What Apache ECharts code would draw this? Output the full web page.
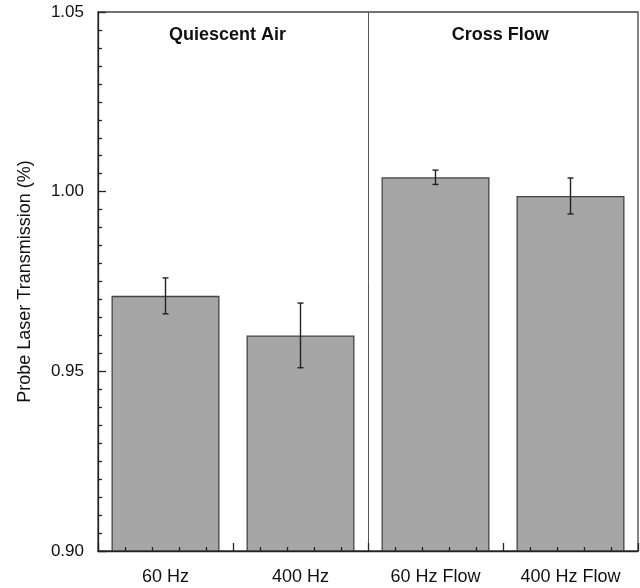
<!DOCTYPE html>
<html>
<head>
<meta charset="utf-8">
<script src="https://cdn.jsdelivr.net/npm/echarts@6/dist/echarts.min.js"></script>
<style>html,body{margin:0;padding:0;background:#fff}#c{width:640px;height:588px}</style>
</head>
<body>
<div id="c"></div>
<script>
var categories = ['60 Hz', '400 Hz', '60 Hz Flow', '400 Hz Flow'];
var values = [0.971, 0.960, 1.004, 0.9988];
var errors = [0.005, 0.009, 0.002, 0.005];
var sectionTitles = ['Quiescent Air', 'Cross Flow'];
var sectionCenters = [0.96, 2.98];
var sectionDivider = 2;
var yTicks = [0.90, 0.95, 1.00, 1.05];

var FONT = 'Liberation Sans';
var chart = echarts.init(document.getElementById('c'), null, {renderer: 'canvas'});
var tickStyle = {color: '#222', width: 1.3};
var option = {
  animation: false,
  backgroundColor: '#fff',
  grid: {left: 98, right: 2, top: 12, bottom: 37, show: true, borderColor: '#444', borderWidth: 1.3, backgroundColor: 'transparent'},
  xAxis: [{
    type: 'category',
    data: categories,
    axisLine: {show: true, lineStyle: {color: '#222', width: 1.3}},
    axisTick: {show: false},
    axisLabel: {color: '#111', fontFamily: FONT, fontSize: 18, margin: 17},
    splitLine: {show: false},
    z: 10
  }, {
    type: 'value',
    min: 0, max: 4, interval: 1,
    position: 'bottom',
    axisLine: {show: false},
    axisTick: {show: true, inside: true, length: 8, lineStyle: tickStyle},
    minorTick: {show: true, splitNumber: 5, length: 4, lineStyle: tickStyle},
    axisLabel: {show: false},
    splitLine: {show: false},
    z: 10
  }],
  yAxis: {
    type: 'value',
    min: yTicks[0], max: yTicks[yTicks.length - 1], interval: 0.05,
    name: 'Probe Laser Transmission (%)',
    nameLocation: 'middle',
    nameGap: 64,
    nameTextStyle: {color: '#111', fontFamily: FONT, fontSize: 18},
    axisLine: {show: true, lineStyle: {color: '#222', width: 1.3}},
    axisTick: {show: true, inside: true, length: 8, lineStyle: tickStyle},
    minorTick: {show: true, splitNumber: 10, length: 4, lineStyle: tickStyle},
    axisLabel: {color: '#111', fontFamily: FONT, fontSize: 17, margin: 14, formatter: function (v) { return v.toFixed(2); }},
    splitLine: {show: false},
    z: 10
  },
  series: [{
    type: 'bar',
    data: values,
    barCategoryGap: '20%',
    itemStyle: {color: '#a6a6a6', borderColor: '#444', borderWidth: 1.3},
    z: 2
  }, {
    type: 'custom',
    data: categories.map(function (c, i) { return [i, values[i] - errors[i], values[i] + errors[i]]; }),
    renderItem: function (params, api) {
      var lo = api.coord([api.value(0), api.value(1)]);
      var hi = api.coord([api.value(0), api.value(2)]);
      var x = lo[0], cw = 3;
      var st = {stroke: '#222', lineWidth: 1.4};
      return {type: 'group', children: [
        {type: 'line', shape: {x1: x, y1: lo[1], x2: x, y2: hi[1]}, style: st},
        {type: 'line', shape: {x1: x - cw, y1: lo[1], x2: x + cw, y2: lo[1]}, style: st},
        {type: 'line', shape: {x1: x - cw, y1: hi[1], x2: x + cw, y2: hi[1]}, style: st}
      ]};
    },
    z: 5
  }, {
    type: 'line',
    xAxisIndex: 1,
    data: [],
    silent: true,
    markLine: {
      silent: true, symbol: 'none', label: {show: false},
      lineStyle: {color: '#555', width: 1, type: 'solid'},
      data: [{xAxis: sectionDivider}]
    },
    markPoint: {
      silent: true, symbol: 'rect', symbolSize: 0,
      label: {show: true, color: '#111', fontFamily: FONT, fontSize: 18, fontWeight: 'bold', position: 'inside', formatter: '{b}'},
      data: sectionTitles.map(function (t, i) { return {name: t, coord: [sectionCenters[i], 1.0436]}; })
    },
    z: 6
  }]
};
chart.setOption(option);
</script>
</body>
</html>
